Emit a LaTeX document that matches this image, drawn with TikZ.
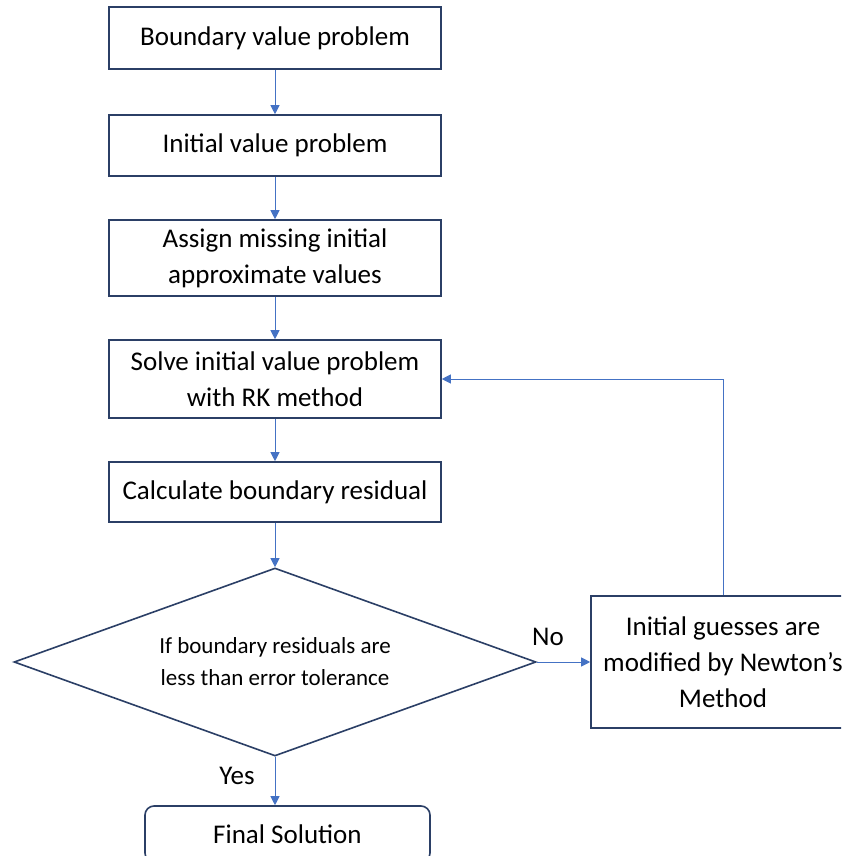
\documentclass[tikz,border=0pt]{standalone}
\usepackage{fontspec}
\setmainfont{Carlito}
\usetikzlibrary{arrows.meta,shapes.geometric}
\definecolor{boxline}{HTML}{2B3F66}
\definecolor{arrowblue}{HTML}{4472C4}
\begin{document}
\begin{tikzpicture}[x=1pt,y=-1pt,
  box/.style={draw=boxline, line width=1.6pt, minimum width=332pt, inner sep=0pt, align=center, font=\fontsize{27}{36}\selectfont},
  arr/.style={draw=arrowblue, line width=1pt, -{Triangle[length=9pt,width=9pt]}},
  lbl/.style={font=\fontsize{27}{36}\selectfont, inner sep=0pt}]
\useasboundingbox (0,0) rectangle (841,856);
\clip (0,0) rectangle (841,856);
\fill[white] (0,0) rectangle (841,856);
\node[box, minimum height=62pt] (b1) at (275,38) {Boundary value problem};
\node[box, minimum height=61pt] (b2) at (275,145.5) {Initial value problem};
\node[box, minimum height=76pt] (b3) at (275,258) {Assign missing initial\\approximate values};
\node[box, minimum height=78pt] (b4) at (275,379) {Solve initial value problem\\with RK method};
\node[box, minimum height=60pt] (b5) at (275,492) {Calculate boundary residual};
\node[draw=boxline, line width=1.6pt, shape=diamond, aspect=2.78, minimum width=522pt, minimum height=188pt, inner sep=0pt, align=center, font=\fontsize{23}{32}\selectfont] (d) at (275,662) {If boundary residuals are\\less than error tolerance};
\node[box, minimum width=264pt, minimum height=132pt] (r) at (723,662) {Initial guesses are\\modified by Newton’s\\Method};
\node[box, minimum width=285pt, minimum height=56pt, rounded corners=9pt] (f) at (287.5,834) {Final Solution};
\draw[arr] (b1.south) -- (b2.north);
\draw[arr] (b2.south) -- (b3.north);
\draw[arr] (b3.south) -- (b4.north);
\draw[arr] (b4.south) -- (b5.north);
\draw[arr] (b5.south) -- (d.north);
\draw[arr] (d.east) -- (r.west);
\draw[arr] (r.north) |- (b4.east);
\draw[arr] (d.south) -- (d.south |- f.north);
\node[lbl] (no) at (548,637) {No};
\node[lbl] (yes) at (237,776) {Yes};
\end{tikzpicture}
\end{document}
